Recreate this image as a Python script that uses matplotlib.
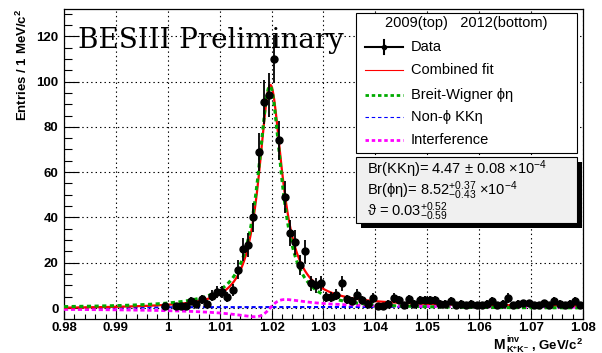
import numpy as np
import matplotlib
matplotlib.use("Agg")
import matplotlib.pyplot as plt
from matplotlib.lines import Line2D
from matplotlib.patches import Rectangle
from matplotlib.transforms import Affine2D
from matplotlib.ticker import MultipleLocator, FuncFormatter

plt.rcParams['font.family'] = ['Liberation Sans', 'DejaVu Sans']
plt.rcParams['mathtext.fontset'] = 'custom'
plt.rcParams['mathtext.rm'] = 'Liberation Sans'
plt.rcParams['mathtext.it'] = 'Liberation Sans:italic'
plt.rcParams['mathtext.bf'] = 'Liberation Sans:bold'
plt.rcParams['lines.scale_dashes'] = False

W, H = 602, 353

# data histogram: 1 MeV bins from 0.98 to 1.08
bin_lo = 0.98
bin_width = 0.001
counts = [0, 0, 0, 0, 0, 0, 0, 0, 0, 0,
          0, 0, 0, 0, 0, 0, 0, 0, 0, 1,
          0, 1, 1, 1, 3, 2, 4, 2, 5.5, 7,
          7, 5, 8, 17, 26, 28, 40, 69, 91, 94,
          110, 74, 49, 33, 29, 19, 25, 11, 10, 11,
          5, 5, 6, 11, 4, 3, 6, 3.5, 2, 4.5,
          1, 1, 2, 4.5, 3.5, 1.5, 4, 2, 3.5, 3.5,
          3.5, 3.5, 2, 2, 3.2, 1.5, 2, 1.3, 2, 1.5,
          1.5, 2, 3.2, 1.5, 2, 4.4, 1.5, 2, 2.2, 2.2,
          1.5, 1.5, 2.2, 1.5, 3.2, 2, 1.5, 2, 3.2, 1.5]

# fit components (parameters)
phi_mass = 1.0197
phi_width = 0.0055
bw_peak = 98.0
bw_skew = 9.0
intf_amp = 7.6
intf_width = 0.006
nonphi_m = [0.98, 1.00, 1.04, 1.08]
nonphi_y = [0.1, 0.4, 0.5, 0.6]

x_major = [0.98, 0.99, 1.00, 1.01, 1.02, 1.03, 1.04, 1.05, 1.06, 1.07, 1.08]
y_major = [0, 20, 40, 60, 80, 100, 120]

legend_labels = ["Data", "Combined fit", "Breit-Wigner \u03d5\u03b7",
                 "Non-\u03d5 KK\u03b7", "Interference"]

counts = np.array(counts, dtype=float)
centers = bin_lo + bin_width * (np.arange(len(counts)) + 0.5)
shown = counts > 0

m = np.linspace(0.98, 1.08, 1000)
d = m - phi_mass
hw = phi_width / 2
bw = bw_peak * hw**2 / (d**2 + hw**2) * np.exp(-bw_skew * d)
xi = d / (intf_width / 2)
intf = intf_amp * xi / (xi**2 + 1)
nonphi = np.interp(m, nonphi_m, nonphi_y)
total = bw + intf + nonphi

fig = plt.figure(figsize=(W / 100, H / 100), dpi=100)
ax = fig.add_axes([64 / W, 1 - 319 / H, 519 / W, 310 / H])
px = Affine2D().scale(1 / W, -1 / H).translate(0, 1) + fig.transFigure

ax.plot(m, nonphi, color='#0000ff', lw=1.5, dashes=(3, 2), zorder=3)
ax.plot(m, intf, color='#ff00ff', lw=2, dashes=(3, 2), zorder=3)
ax.plot(m, total, color='#ff0000', lw=1.6, zorder=4)
ax.plot(m, bw, color='#00aa00', lw=2.2, dashes=(3, 2.5), zorder=5)
ax.errorbar(centers[shown], counts[shown], yerr=np.sqrt(counts[shown]),
            fmt='o', color='black', ms=5, elinewidth=1.3, capsize=0, zorder=6)

ax.set_xlim(0.98, 1.08)
ax.set_ylim(-4.8, 132)
ax.set_xticks(x_major)
ax.set_yticks(y_major)
ax.xaxis.set_major_formatter(FuncFormatter(lambda v, p: '%g' % round(v, 3)))
ax.xaxis.set_minor_locator(MultipleLocator(0.002))
ax.yaxis.set_minor_locator(MultipleLocator(5))
ax.grid(True, which='major', color='black', lw=0.8, linestyle=(0, (1, 2.2)))
ax.tick_params(which='both', direction='in', top=False, right=False,
               width=0.8, labelsize=9.5)
ax.tick_params(axis='y', which='major', length=10.5, pad=4)
ax.tick_params(axis='y', which='minor', length=5.5)
ax.tick_params(axis='x', which='major', length=6.5, pad=2.5)
ax.tick_params(axis='x', which='minor', length=3.5)
for lab in ax.get_xticklabels() + ax.get_yticklabels():
    lab.set_fontweight('bold')
for s in ax.spines.values():
    s.set_linewidth(0.9)

ax.set_ylabel(r'Entries / 1 MeV/c$^{\mathbf{2}}$', fontsize=9.5,
              fontweight='bold', loc='top')
ax.yaxis.set_label_coords(-0.066, 1.0)

# x axis title, built from pieces: M with stacked "inv" / "K+K-"
fig.text(583, 345, r', GeV/c$^{\mathbf{2}}$', transform=px, fontsize=9.5,
         fontweight='bold', ha='right', va='center')
fig.text(506, 339, 'inv', transform=px, fontsize=6.5, fontweight='bold',
         ha='left', va='center')
fig.text(506, 350, 'K\u207aK\u207b', transform=px, fontsize=6.5, fontweight='bold',
         ha='left', va='center')
fig.text(505, 345, 'M', transform=px, fontsize=10, fontweight='bold',
         ha='right', va='center')

fig.text(78, 41, 'BESIII Preliminary', transform=px, family='DejaVu Serif',
         fontsize=20, va='center', ha='left', zorder=10)

# legend box
fig.patches.append(Rectangle((356, 13), 221, 140, transform=px, facecolor='white',
                             edgecolor='black', lw=0.8, zorder=10))
fig.text(466, 23, '2009(top)   2012(bottom)', transform=px, fontsize=10.5,
         ha='center', va='center', zorder=11)
rows = [47, 70, 95, 117, 140]
styles = [dict(color='black', lw=1.5),
          dict(color='#ff0000', lw=0.8),
          dict(color='#00aa00', lw=2, dashes=(2.5, 2)),
          dict(color='#0000ff', lw=0.8, dashes=(2.5, 2)),
          dict(color='#ff00ff', lw=2, dashes=(2.5, 2))]
for yy, st, lab in zip(rows, styles, legend_labels):
    fig.lines.append(Line2D([365, 403], [yy, yy], transform=px, zorder=11, **st))
    fig.text(411, yy, lab, transform=px, fontsize=10.5, va='center', ha='left', zorder=11)
fig.lines.append(Line2D([384, 384], [40, 54], transform=px, color='black', lw=1.5, zorder=11))
fig.lines.append(Line2D([384], [47], transform=px, color='black', marker='o', ms=3, zorder=11))

# stat box
fig.patches.append(Rectangle((361, 162), 221, 66, transform=px, facecolor='black',
                             edgecolor='black', lw=0, zorder=10))
fig.patches.append(Rectangle((356, 157), 221, 66, transform=px, facecolor='#f0f0f0',
                             edgecolor='black', lw=0.8, zorder=10))
fig.text(367, 169, 'Br(KK\u03b7)= 4.47 \u00b1 0.08 \u00d710$^{-4}$', transform=px,
         fontsize=10.5, va='center', ha='left', zorder=11)
fig.text(367, 191, 'Br(\u03d5\u03b7)= 8.52$^{+0.37}_{-0.43}$ \u00d710$^{-4}$', transform=px,
         fontsize=10.5, va='center', ha='left', zorder=11)
fig.text(367, 212, '\u03d1 = 0.03$^{+0.52}_{-0.59}$', transform=px,
         fontsize=10.5, va='center', ha='left', zorder=11)

fig.savefig('out.png', dpi=100)
